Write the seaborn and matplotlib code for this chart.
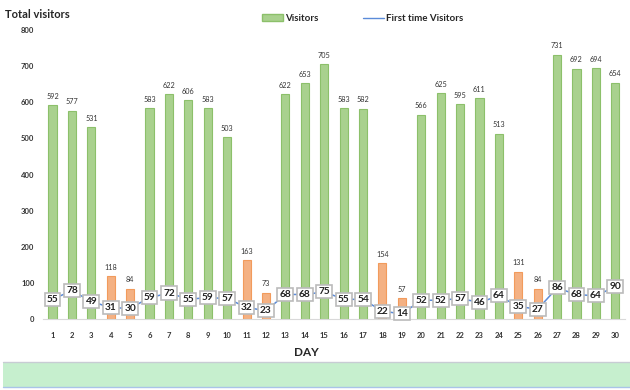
import pandas as pd
import matplotlib.pyplot as plt
import seaborn as sns
from matplotlib.patches import Patch, Rectangle
from matplotlib.lines import Line2D

# 数据
days = list(range(1, 31))
visitors = [592, 577, 531, 118, 84, 583, 622, 606, 583, 503,
            163, 73, 622, 653, 705, 583, 582, 154, 57, 566,
            625, 595, 611, 513, 131, 84, 731, 692, 694, 654]
first_time = [55, 78, 49, 31, 30, 59, 72, 55, 59, 57,
              32, 23, 68, 68, 75, 55, 54, 22, 14, 52,
              52, 57, 46, 64, 35, 27, 86, 68, 64, 90]
weekend_days = [4, 5, 11, 12, 18, 19, 25, 26]

green, orange = '#A9D18E', '#F4B183'
line_col = '#5B8BD9'


def main():
    sns.set_style('white')
    plt.rcParams['font.family'] = ['Lato', 'DejaVu Sans']

    data = pd.DataFrame({'day': [str(d) for d in days],
                         'visitors': visitors,
                         'first': first_time})
    data['kind'] = ['weekend' if d in weekend_days else 'weekday' for d in days]

    fig = plt.figure(figsize=[6.3, 3.9], dpi=100)
    ax = fig.add_axes([0.068, 0.182, 0.924, 0.741])

    colors = [orange if k == 'weekend' else green for k in data['kind']]
    sns.barplot(x='day', y='visitors', data=data, hue='day', palette=colors,
                legend=False, width=0.42, ax=ax, saturation=1)
    for bar, k in zip(ax.patches, data['kind']):
        bar.set_edgecolor('#F29B5C' if k == 'weekend' else '#8CC06A')
        bar.set_linewidth(0.8)

    # 柱子标签
    for bar, v in zip(ax.patches, visitors):
        ax.annotate(str(v), (bar.get_x() + bar.get_width() / 2, v),
                    xytext=(0, 4), textcoords='offset points',
                    ha='center', va='bottom', fontsize=5.2, color='#333333')

    # 折线
    data['pos'] = range(len(days))
    sns.lineplot(x='pos', y='first', data=data, color=line_col, lw=1.1, ax=ax)
    for i, v in enumerate(first_time):
        ax.text(i, v, str(v), ha='center', va='center', fontsize=7.3,
                fontweight='bold', color='#222222', zorder=5,
                bbox=dict(boxstyle='square,pad=0.2', fc='white',
                          ec='#BBBBBB', lw=1.2))

    ax.set_ylim(0, 800)
    ax.set_xlim(-0.5, len(days) - 0.5)
    ax.set_yticks(range(0, 801, 100))
    ax.tick_params(axis='both', length=0, labelsize=5.5, colors='#333333')
    for lbl in ax.get_xticklabels() + ax.get_yticklabels():
        lbl.set_fontweight('bold')
    ax.tick_params(axis='x', pad=9)
    ax.tick_params(axis='y', pad=6)
    ax.set_xlabel('')
    ax.set_ylabel('')
    for s in ['top', 'right', 'left']:
        ax.spines[s].set_visible(False)
    ax.spines['bottom'].set_color('#D9D9D9')

    # 标题与图例
    fig.text(0.008, 0.962, 'Total visitors', fontsize=8, fontweight='bold',
             ha='left', va='center')
    fig.text(0.486, 0.097, 'DAY', fontsize=8.5, fontweight='bold',
             ha='center', va='center')
    handles = [Patch(facecolor=green, edgecolor='#8CC06A'),
               Line2D([0], [0], color=line_col, lw=1)]
    fig.legend(handles, ['Visitors', 'First time Visitors'], loc='center',
               bbox_to_anchor=(0.575, 0.952), ncol=2, frameon=False,
               prop={'size': 7, 'weight': 'bold'}, handlelength=2.2,
               columnspacing=4.6, handletextpad=0.15)

    # 底部绿色条
    fig.patches.append(Rectangle((0.005, 0.008), 0.995, 0.063,
                                 transform=fig.transFigure, facecolor='#C6EFCE',
                                 edgecolor='none'))
    fig.add_artist(Line2D([0.005, 1], [0.071, 0.071], color='#C8CCD4', lw=1,
                          transform=fig.transFigure))
    fig.add_artist(Line2D([0.005, 1], [0.008, 0.008], color='#A9C4E8', lw=1,
                          transform=fig.transFigure))

    plt.savefig('out.png', dpi=100)


if __name__ == '__main__':
    main()
